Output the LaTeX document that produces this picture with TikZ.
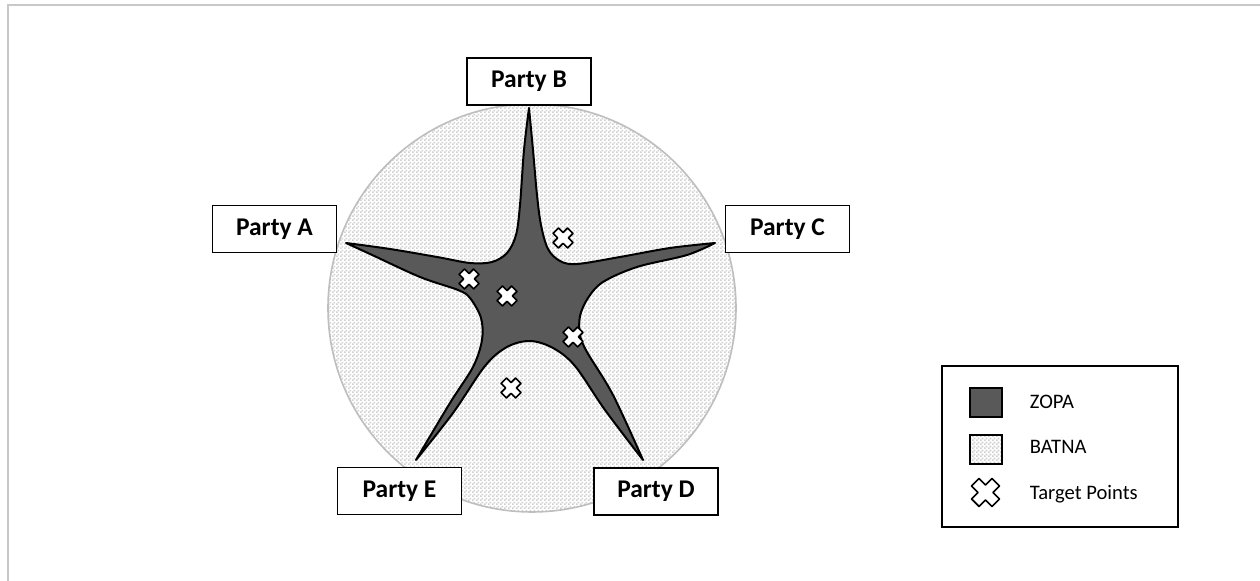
\documentclass[tikz,border=0pt]{standalone}
\usepackage{fontspec}
\setmainfont{Carlito}
\usetikzlibrary{patterns.meta}
\definecolor{zopa}{RGB}{89,89,89}
\definecolor{batnaline}{RGB}{190,190,190}
\definecolor{frameline}{RGB}{200,200,200}
\tikzdeclarepattern{
  name=finedots,
  type=uncolored,
  bounding box={(0pt,0pt) and (2pt,2pt)},
  tile size={(2pt,2pt)},
  code={\fill (0pt,0pt) rectangle (1pt,1pt); \fill (1pt,1pt) rectangle (2pt,2pt);}
}
\tikzset{
  partybox/.style={draw, line width=0.75pt, fill=white, minimum width=62pt, minimum height=23.5pt, inner sep=0pt, font=\fontsize{12.75}{15}\selectfont\bfseries},
  legendtext/.style={anchor=base west, inner sep=0pt, font=\fontsize{10.3}{12}\selectfont},
  batnafill/.style={pattern=finedots, pattern color=gray!38},
  target/.pic={
    \filldraw[fill=white, draw=black, line width=0.8pt, line join=round, rotate=45, scale=#1]
      (3.8,3.8) -- (3.8,10.3) -- (-3.8,10.3) -- (-3.8,3.8) -- (-10.3,3.8) -- (-10.3,-3.8)
      -- (-3.8,-3.8) -- (-3.8,-10.3) -- (3.8,-10.3) -- (3.8,-3.8) -- (10.3,-3.8) -- (10.3,3.8) -- cycle;
  }
}
\begin{document}
\begin{tikzpicture}[x=0.5pt, y=-0.5pt]
\useasboundingbox (0,0) rectangle (1260,581);
% frame lines
\draw[frameline, line width=0.75pt] (8,581) -- (8,5) -- (1260,5);
% BATNA circle
\fill[white] (532,308) circle[radius=204];
\fill[batnafill] (532,308) circle[radius=204];
\draw[batnaline, line width=0.8pt] (532,308) circle[radius=204];
% ZOPA star
\filldraw[fill=zopa, draw=black, line width=1pt, line join=round]
  plot[smooth, tension=0.55] coordinates {(346,243) (390,249) (437,257) (470,263) (492,262) (507,253) (516,235) (520,205) (524,150) (529,108)}
  -- plot[smooth, tension=0.55] coordinates {(529,108) (533,150) (537,195) (541,225) (548,249) (560,261) (577,264) (620,257) (670,248) (715,243)}
  -- plot[smooth, tension=0.55] coordinates {(715,243) (687,255) (637,267) (603,282) (588,298) (580,316) (580,335) (587,352) (613,395) (643,460)}
  -- plot[smooth, tension=0.55] coordinates {(643,460) (605,410) (575,366) (553,348) (530,341) (507,347) (485,366) (453,413) (416,460)}
  -- plot[smooth, tension=0.55] coordinates {(416,460) (450,403) (473,367) (482,340) (481,318) (470,298) (458,290) (420,277) (370,254) (346,243)}
  -- cycle;
% target points
\pic at (563,238) {target=1};
\pic at (469,279) {target=1};
\pic at (507,296) {target=1};
\pic at (573,337) {target=1};
\pic at (511,388) {target=1};
% party labels
\node[partybox] (pB) at (529,81.5) {Party B};
\node[partybox] (pA) at (274.5,229) {Party A};
\node[partybox] (pC) at (787.5,229) {Party C};
\node[partybox] (pE) at (399.5,491) {Party E};
\node[partybox] (pD) at (656,491.5) {Party D};
% legend
\draw[line width=1pt] (942,366) rectangle (1177.5,527.5);
\filldraw[fill=zopa, draw=black, line width=1pt] (969.5,388) rectangle (1002,417);
\filldraw[fill=white, draw=black, line width=1pt] (970,435) rectangle (1002,464);
\fill[batnafill] (970,435) rectangle (1002,464);
\draw[line width=1pt] (970,435) rectangle (1002,464);
\pic at (985.5,492.5) {target=1.4};
\node[legendtext] (lz) at (1029.5,408.3) {ZOPA};
\node[legendtext] (lb) at (1029.5,454) {BATNA};
\node[legendtext] (lt) at (1029.5,500) {Target Points};
\end{tikzpicture}
\end{document}
